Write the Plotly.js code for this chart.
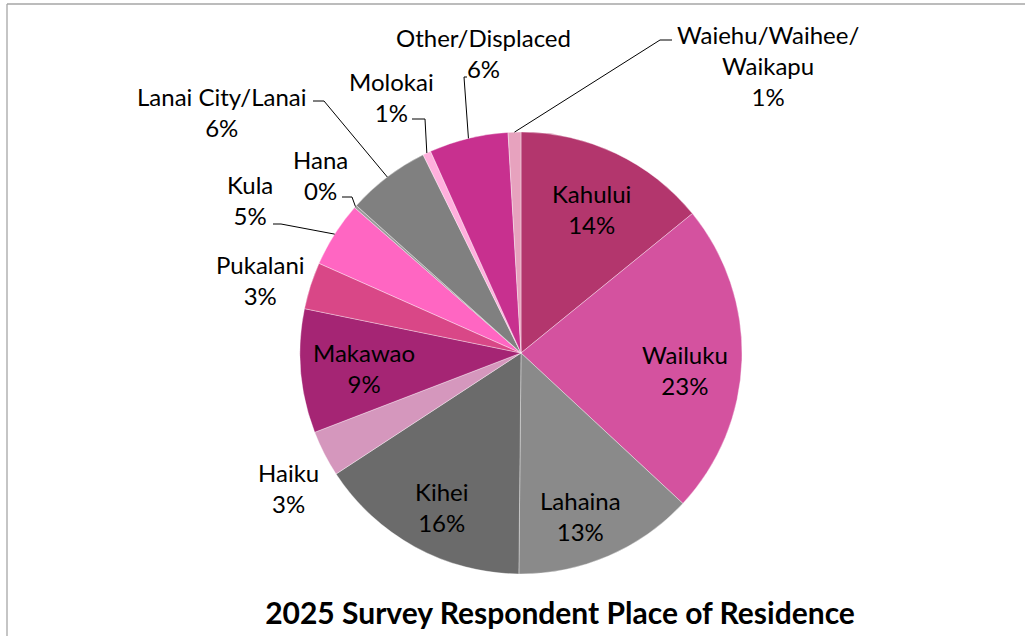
<!DOCTYPE html>
<html>
<head>
<meta charset="utf-8">
<script src="https://cdn.plot.ly/plotly-3.0.1.min.js"></script>
<style>html,body{margin:0;padding:0;background:#fff;}#chart{width:1025px;height:636px;}</style>
</head>
<body>
<div id="chart"></div>
<script>
// ---- data (clockwise from 12 o'clock) ----
const places = ["Kahului", "Wailuku", "Lahaina", "Kihei", "Haiku", "Makawao", "Pukalani",
                "Kula", "Hana", "Lanai City/Lanai", "Molokai", "Other/Displaced", "Waiehu/Waihee/Waikapu"];
const shares = [14.2, 22.9, 13.3, 15.7, 3.4, 9.1, 3.45, 4.8, 0.2, 6.1, 0.6, 5.8, 0.94];
const labelText = ["Kahului", "Wailuku", "Lahaina", "Kihei", "Haiku", "Makawao", "Pukalani",
                   "Kula", "Hana", "Lanai City/Lanai", "Molokai", "Other/Displaced", "Waiehu/Waihee/<br>Waikapu"];
const sliceColors = ["#B3366D", "#D4529F", "#8A8A8A", "#6B6B6B", "#D597BD", "#A52574", "#D94787",
                     "#FF66C2", "#9A9A9A", "#808080", "#FFB0DD", "#C8308F", "#E7A2BE"];
const chartTitle = "2025 Survey Respondent Place of Residence";

// ---- layout geometry (pixels) ----
const W = 1025, H = 636;
const CX = 521, CY = 353, R = 221;
const px = x => x / W;
const py = y => 1 - y / H;

// label block centers (px)
const labelPos = [
  [591, 209], [685, 370], [580, 516], [441, 507], [288, 488], [364, 368], [260, 280],
  [250, 200], [320, 175], [222, 112], [391, 97], [483, 53], [768, 65]
];
// leader lines: [label end x, y, elbow x, y] or null
const leaders = [
  null, null, null, null, null, null, null,
  [273, 224, 281, 224],
  [342, 197, 352, 197],
  [313, 101, 324, 101],
  [412, 119, 425, 119],
  [467, 77, 464, 77],
  [672, 40, 660, 40]
];

const total = shares.reduce((a, b) => a + b, 0);
const pctText = shares.map(v => Math.round(v / total * 100) + "%");

const annotations = places.map((p, i) => ({
  x: px(labelPos[i][0]), y: py(labelPos[i][1]), xref: "paper", yref: "paper",
  xanchor: "center", yanchor: "middle", align: "center", showarrow: false,
  text: labelText[i] + "<br>" + pctText[i],
  font: {family: "Lato, 'Open Sans', sans-serif", size: 24, color: "#000"}
}));

// leader lines attach to slice edge at each slice's mid-angle
const shapes = [];
let cum = 0;
shares.forEach((v, i) => {
  const mid = (cum + v / 2) / total;
  cum += v;
  const L = leaders[i];
  if (!L) return;
  const th = 2 * Math.PI * mid;
  const ex = CX + R * Math.sin(th), ey = CY - R * Math.cos(th);
  shapes.push({
    type: "path", xref: "paper", yref: "paper",
    path: `M ${px(L[0])} ${py(L[1])} L ${px(L[2])} ${py(L[3])} L ${px(ex)} ${py(ey)}`,
    line: {color: "#000", width: 1}
  });
});
// chart frame (top and left edges visible)
shapes.push({type: "line", xref: "paper", yref: "paper", x0: px(7), y0: py(4), x1: 1, y1: py(4), line: {color: "#A6A6A6", width: 1.3}});
shapes.push({type: "line", xref: "paper", yref: "paper", x0: px(7), y0: py(4), x1: px(7), y1: 0, line: {color: "#A6A6A6", width: 1.3}});

const trace = {
  type: "pie",
  labels: places,
  values: shares,
  sort: false,
  direction: "clockwise",
  rotation: 0,
  textinfo: "none",
  hoverinfo: "label+percent",
  marker: {colors: sliceColors, line: {color: "rgba(255,255,255,0.6)", width: 0.6}},
  domain: {x: [px(CX - R), px(CX + R)], y: [py(CY + R), py(CY - R)]},
  showlegend: false
};

const layout = {
  width: W, height: H,
  margin: {l: 0, r: 0, t: 0, b: 0},
  paper_bgcolor: "#fff",
  showlegend: false,
  title: {
    text: chartTitle, x: px(560), xanchor: "center", y: py(613), yanchor: "middle",
    font: {family: "Lato, 'Open Sans', sans-serif", size: 30, weight: 700, color: "#000"}
  },
  annotations: annotations,
  shapes: shapes
};

Plotly.newPlot("chart", [trace], layout, {displayModeBar: false, staticPlot: true});
</script>
</body>
</html>
